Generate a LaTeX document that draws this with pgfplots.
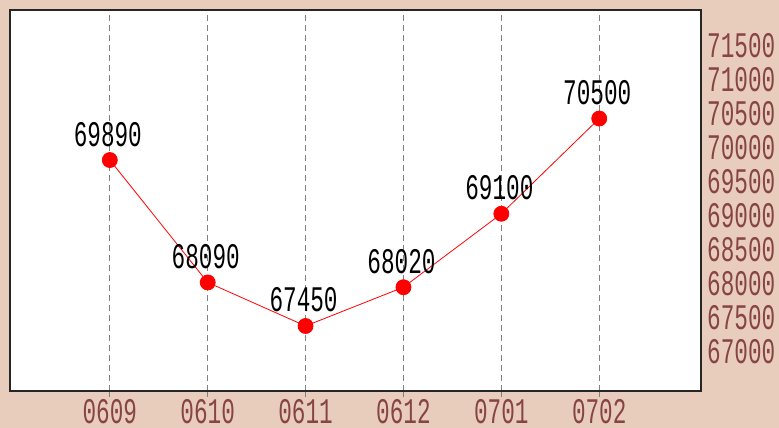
\documentclass[border=0pt]{standalone}
\usepackage{pgfplots}
\pgfplotsset{compat=1.18}
\usepackage{fontspec}
\newfontfamily\chartfont[FakeStretch=0.63]{Liberation Mono}
\definecolor{bg}{RGB}{233,205,188}
\definecolor{lab}{RGB}{135,68,68}
\begin{document}
\begin{tikzpicture}[x=1pt,y=1pt]
\fill[bg] (0,0) rectangle (779,428);
\begin{axis}[
  at={(10pt,37pt)}, anchor=south west,
  scale only axis, width=691pt, height=381pt,
  xmin=-1.02, xmax=6.04, ymin=66494, ymax=72096,
  xtick={0,1,2,3,4,5},
  xticklabels={0609,0610,0611,0612,0701,0702},
  ytick={67000,67500,68000,68500,69000,69500,70000,70500,71000,71500},
  scaled ticks=false,
  xtick pos=bottom, ytick pos=right, yticklabel pos=right,
  tick align=outside, major tick length=6pt,
  xtick style={gray, line width=0.8pt},
  ytick style={draw=none},
  xmajorgrids,
  grid style={gray, line width=0.8pt, dash pattern=on 6pt off 4pt},
  axis background/.style={fill=white},
  axis line style={black!85, line width=1.5pt},
  /pgf/number format/.cd, 1000 sep={}, assume math mode=true,
  /pgfplots/.cd,
  tick label style={font=\chartfont\fontsize{36pt}{36pt}\selectfont, text=lab},
  xticklabel style={anchor=base, inner sep=0pt, text depth=0pt, yshift=-27pt},
  yticklabel style={anchor=base west, inner sep=0pt, xshift=0pt, yshift=-7.4pt},
  nodes near coords,
  every node near coord/.append style={font=\chartfont\fontsize{36pt}{36pt}\selectfont, text=black, anchor=base, inner sep=0pt, yshift=14pt, xshift=-2pt},
]
\addplot[red, line width=0.8pt, mark=*, mark size=7.5pt, mark options={fill=red, draw=red}]
  coordinates {(0,69890) (1,68090) (2,67450) (3,68020) (4,69100) (5,70500)};
\end{axis}
\pgfresetboundingbox
\useasboundingbox (0,0) rectangle (779,428);
\end{tikzpicture}
\end{document}
